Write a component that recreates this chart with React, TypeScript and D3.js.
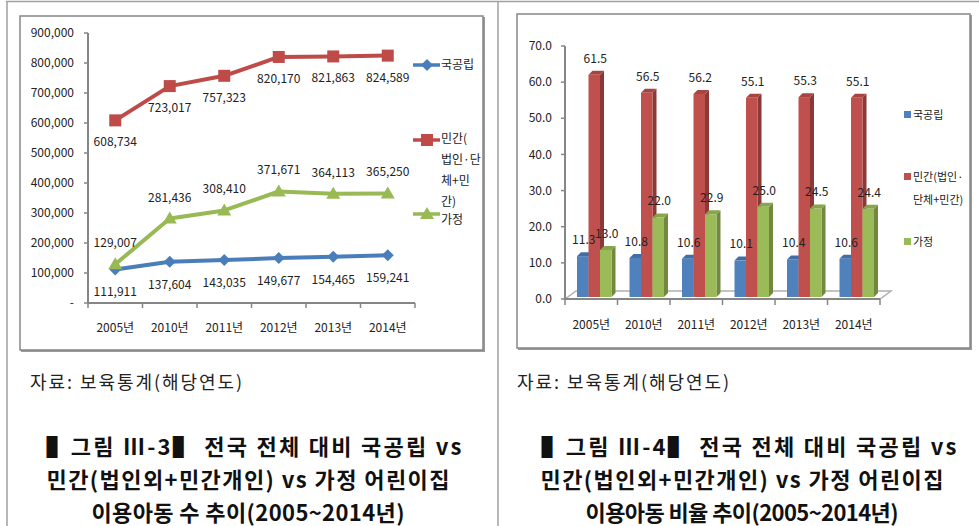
import React from 'react';
import * as d3 from 'd3';

const years = ['2005년', '2010년', '2011년', '2012년', '2013년', '2014년'];
const seriesNames = ['국공립', '민간', '가정'];
const publicCounts = [111911, 137604, 143035, 149677, 154465, 159241];
const privateCounts = [608734, 723017, 757323, 820170, 821863, 824589];
const homeCounts = [129007, 281436, 308410, 371671, 364113, 365250];
const countTicks = [0, 100000, 200000, 300000, 400000, 500000, 600000, 700000, 800000, 900000];

const publicPct = [11.3, 10.8, 10.6, 10.1, 10.4, 10.6];
const privatePct = [61.5, 56.5, 56.2, 55.1, 55.3, 55.1];
const homePct = [13.0, 22.0, 22.9, 25.0, 24.5, 24.4];
const pctTicks = [0, 10, 20, 30, 40, 50, 60, 70];

const leftLegendLines = [['국공립'], ['민간(', '법인·단', '체+민', '간)'], ['가정']];
const rightLegendLines = [['국공립'], ['민간(법인·', '단체+민간)'], ['가정']];
const sourceText = '자료: 보육통계(해당연도)';
const leftTitle = ['▌그림  Ⅲ-3▌  전국 전체 대비 국공립 vs', '민간(법인외+민간개인)  vs 가정 어린이집', '이용아동 수 추이(2005~2014년)'];
const rightTitle = ['▌그림  Ⅲ-4▌  전국 전체 대비 국공립 vs', '민간(법인외+민간개인)  vs 가정 어린이집', '이용아동 비율 추이(2005~2014년)'];

const FONT = "'Noto Sans CJK KR', 'Noto Sans', sans-serif";
const lineColors = ['#4a7ebb', '#be4b48', '#98b954'];
const barFront = ['#4f81bd', '#c0504d', '#9bbb59'];
const barSide = ['#385d8a', '#8c3836', '#71893f'];
const barTop = ['#416ea5', '#a64442', '#87a64c'];
const axisColor = '#868686';

function LeftChart() {
  const x = d3.scaleBand<string>().domain(years).range([88, 415]).padding(0);
  const y = d3.scaleLinear().domain([0, 900000]).range([303, 33]);
  const data = [publicCounts, privateCounts, homeCounts];
  const line = d3
    .line<number>()
    .x((_, i) => (x(years[i]) as number) + x.bandwidth() / 2)
    .y((d) => y(d));
  const fmt = d3.format(',');
  const labelDy = [27, 26, -17];
  const marker = (si: number, cx: number, cy: number, key: string) => {
    const c = lineColors[si];
    if (si === 0) {
      const s = 6;
      return <polygon key={key} points={`${cx},${cy - s} ${cx + s},${cy} ${cx},${cy + s} ${cx - s},${cy}`} fill={c} />;
    }
    if (si === 1) {
      return <rect key={key} x={cx - 6} y={cy - 6} width={12} height={12} fill={c} />;
    }
    return <polygon key={key} points={`${cx},${cy - 7} ${cx + 7},${cy + 5} ${cx - 7},${cy + 5}`} fill={c} />;
  };
  const legendY = [65, 140, 214];
  const textY = [65, 139, 220];
  const textStep = [0, 21, 0];
  return (
    <g fontFamily={FONT} fontSize={12} fill="#222">
      <rect x={21} y={17} width={464} height={335} fill="#9a9a9a" />
      <rect x={20} y={16} width={463} height={334} fill="#fff" stroke={axisColor} strokeWidth={1.5} />
      {countTicks.map((t) => (
        <g key={t}>
          <line x1={84} x2={88} y1={y(t)} y2={y(t)} stroke={axisColor} strokeWidth={1.5} />
          <text x={74} y={y(t)} dy="0.35em" textAnchor="end">
            {t === 0 ? '-' : fmt(t)}
          </text>
        </g>
      ))}
      <line x1={88} x2={88} y1={y(900000)} y2={y(0)} stroke={axisColor} strokeWidth={2} />
      <line x1={88} x2={415} y1={y(0)} y2={y(0)} stroke={axisColor} strokeWidth={2} />
      {[...years.map((yr) => x(yr) as number), 415].map((px, i) => (
        <line key={i} x1={px} x2={px} y1={y(0)} y2={y(0) + 5} stroke={axisColor} strokeWidth={1.5} />
      ))}
      {years.map((yr) => (
        <text key={yr} x={(x(yr) as number) + x.bandwidth() / 2} y={332} textAnchor="middle">
          {yr}
        </text>
      ))}
      {data.map((arr, si) => (
        <path key={si} d={line(arr) || ''} fill="none" stroke={lineColors[si]} strokeWidth={4} strokeLinejoin="round" />
      ))}
      {data.map((arr, si) =>
        arr.map((v, i) => marker(si, (x(years[i]) as number) + x.bandwidth() / 2, y(v), `m${si}-${i}`))
      )}
      {data.map((arr, si) =>
        arr.map((v, i) => (
          <text key={`l${si}-${i}`} x={(x(years[i]) as number) + x.bandwidth() / 2} y={y(v) + labelDy[si]} textAnchor="middle">
            {fmt(v)}
          </text>
        ))
      )}
      {seriesNames.map((s, si) => (
        <g key={s}>
          <line x1={413} x2={440} y1={legendY[si]} y2={legendY[si]} stroke={lineColors[si]} strokeWidth={3.5} />
          {marker(si, 427, legendY[si], `lm${si}`)}
          {leftLegendLines[si].map((t, k) => (
            <text key={k} x={441} y={textY[si] + k * textStep[si]} dy="0.35em">
              {t}
            </text>
          ))}
        </g>
      ))}
    </g>
  );
}

function RightChart() {
  const x = d3.scaleBand<string>().domain(years).range([565, 880]).padding(0);
  const inner = d3.scaleBand<string>().domain(seriesNames).range([12, 46.5]).padding(0);
  const y = d3.scaleLinear().domain([0, 70]).range([299, 46]);
  const data = [publicPct, privatePct, homePct];
  const d = 4;
  const base = y(0) - 2;
  const legendY = [115, 177, 242];
  return (
    <g fontFamily={FONT} fontSize={12} fill="#222">
      <rect x={518} y={15} width={454} height={335} fill="#9a9a9a" />
      <rect x={517} y={14} width={453} height={334} fill="#fff" stroke={axisColor} strokeWidth={1.5} />
      <polygon
        points={`${x.range()[0]},${y(0)} ${x.range()[0] + 11},${y(0) - 8} ${x.range()[1] + 11},${y(0) - 8} ${x.range()[1]},${y(0)}`}
        fill="none"
        stroke="#b0b0b0"
        strokeWidth={1.5}
      />
      {pctTicks.map((t) => (
        <g key={t}>
          <line x1={561} x2={565} y1={y(t)} y2={y(t)} stroke={axisColor} strokeWidth={1.5} />
          <text x={552} y={y(t)} dy="0.35em" textAnchor="end">
            {d3.format('.1f')(t)}
          </text>
        </g>
      ))}
      <line x1={565} x2={565} y1={y(70)} y2={y(0)} stroke={axisColor} strokeWidth={2} />
      <line x1={565} x2={880} y1={y(0)} y2={y(0)} stroke={axisColor} strokeWidth={2} />
      {[...years.map((yr) => x(yr) as number), 880].map((px, i) => (
        <line key={i} x1={px} x2={px} y1={y(0)} y2={y(0) + 6} stroke={axisColor} strokeWidth={1.5} />
      ))}
      {years.map((yr) => (
        <text key={yr} x={(x(yr) as number) + x.bandwidth() / 2} y={329} textAnchor="middle">
          {yr}
        </text>
      ))}
      {years.map((yr, i) => (
        <g key={yr}>
          {data.map((arr, si) => {
            const bx = (x(yr) as number) + (inner(seriesNames[si]) as number);
            const w = inner.bandwidth();
            const top = y(arr[i]) - 2;
            return (
              <g key={si}>
                <polygon
                  points={`${bx + w},${top} ${bx + w + d},${top - d} ${bx + w + d},${base - d} ${bx + w},${base}`}
                  fill={barSide[si]}
                />
                <polygon points={`${bx},${top} ${bx + d},${top - d} ${bx + w + d},${top - d} ${bx + w},${top}`} fill={barTop[si]} />
                <rect x={bx} y={top} width={w} height={base - top} fill={barFront[si]} />
              </g>
            );
          })}
        </g>
      ))}
      {years.map((yr, i) =>
        data.map((arr, si) => {
          const bx = (x(yr) as number) + (inner(seriesNames[si]) as number);
          return (
            <text key={`${yr}-${si}`} x={bx + inner.bandwidth() / 2 + 1} y={y(arr[i]) - 14} textAnchor="middle">
              {d3.format('.1f')(arr[i])}
            </text>
          );
        })
      )}
      {seriesNames.map((s, si) => (
        <g key={s} fontSize={11}>
          <rect x={904} y={legendY[si] - 4} width={7} height={7} fill={barFront[si]} />
          {rightLegendLines[si].map((t, k) => (
            <text key={k} x={913} y={legendY[si] + k * 23} dy="0.35em">
              {t}
            </text>
          ))}
        </g>
      ))}
    </g>
  );
}

function Captions({ centers, sx, lines }: { centers: number[]; sx: number; lines: string[] }) {
  const widths = [415, 403, 313];
  return (
    <g fontFamily={FONT}>
      <text x={sx} y={389} fontSize={18} fill="#222" textLength={212} lengthAdjust="spacing">
        {sourceText}
      </text>
      {lines.map((t, i) => (
        <text
          key={i}
          x={centers[i]}
          y={455 + i * 33}
          fontSize={22}
          fontWeight="bold"
          fill="#111"
          textAnchor="middle"
          textLength={widths[i]}
          lengthAdjust="spacing"
        >
          {t}
        </text>
      ))}
    </g>
  );
}

export default function App() {
  return (
    <svg width={979} height={526} style={{ position: 'absolute', left: 0, top: 0 }}>
      <rect x={0} y={0} width={979} height={526} fill="#fff" />
      <line x1={6} x2={979} y1={1.5} y2={1.5} stroke="#a0a0a0" strokeWidth={1.5} />
      <line x1={7} x2={7} y1={1} y2={526} stroke="#a0a0a0" strokeWidth={1.5} />
      <line x1={498} x2={498} y1={1} y2={526} stroke="#a0a0a0" strokeWidth={1.5} />
      <LeftChart />
      <RightChart />
      <Captions centers={[254, 248, 248]} sx={30} lines={leftTitle} />
      <Captions centers={[749, 742, 742]} sx={517} lines={rightTitle} />
    </svg>
  );
}
